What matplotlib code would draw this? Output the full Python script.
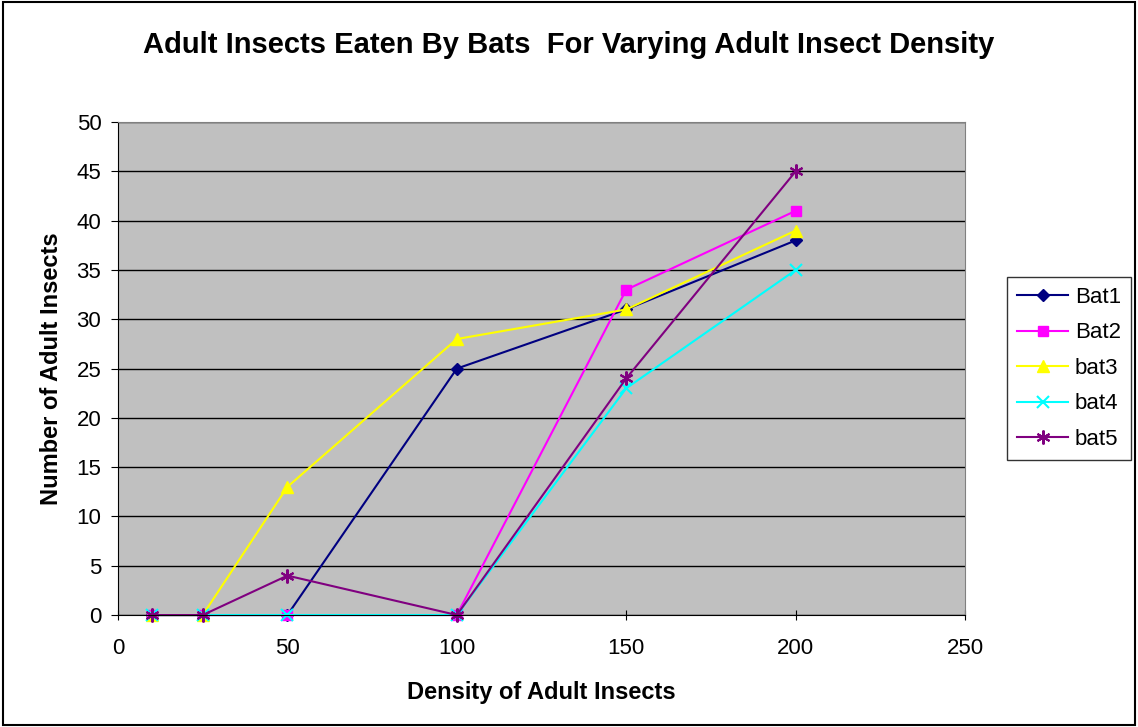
import matplotlib
matplotlib.use('Agg')
import matplotlib.pyplot as plt
from matplotlib.patches import Rectangle

plt.rcParams['font.family'] = ['Liberation Sans', 'DejaVu Sans']

density = [10, 25, 50, 100, 150, 200]
bat1 = [0, 0, 0, 25, 31, 38]
bat2 = [0, 0, 0, 0, 33, 41]
bat3 = [0, 0, 13, 28, 31, 39]
bat4 = [0, 0, 0, 0, 23, 35]
bat5 = [0, 0, 4, 0, 24, 45]
names = ['Bat1', 'Bat2', 'bat3', 'bat4', 'bat5']
colors = ['#000080', '#FF00FF', '#FFFF00', '#00FFFF', '#800080']
markers = ['D', 's', '^', 'x', (6, 2, 0)]
sizes = [6, 7, 8, 8, 10]

fig = plt.figure(figsize=(11.38, 7.27), dpi=100)
fig.patches.append(Rectangle((0.003, 0.003), 0.994, 0.994, transform=fig.transFigure,
                             fill=False, edgecolor='black', linewidth=1.5))
ax = fig.add_axes([0.1037, 0.154, 0.7443, 0.678])
ax.set_facecolor('#C0C0C0')

for ys, name, c, m, s in zip([bat1, bat2, bat3, bat4, bat5], names, colors, markers, sizes):
    ax.plot(density, ys, color=c, marker=m, markersize=s, linewidth=1.5, label=name,
            markeredgewidth=1.5 if m in ('x', (6, 2, 0)) else 1, markeredgecolor=c,
            clip_on=False)

ax.set_xlim(0, 250)
ax.set_ylim(0, 50)
ax.set_xticks(range(0, 251, 50))
ax.set_yticks(range(0, 51, 5))
ax.yaxis.grid(True, color='black', linewidth=1)
ax.set_axisbelow(True)
ax.tick_params(axis='x', labelsize=16, direction='inout', length=7, pad=13, color='black')
ax.tick_params(axis='y', labelsize=16, direction='out', length=5, pad=7, color='black')
for side in ['top', 'right']:
    ax.spines[side].set_color('#808080')
ax.spines['bottom'].set_color('black')
ax.spines['left'].set_color('black')

fig.text(0.5, 1 - 45 / 727, 'Adult Insects Eaten By Bats  For Varying Adult Insect Density',
         fontsize=21, fontweight='bold', ha='center', va='center')
ax.set_xlabel('Density of Adult Insects', fontsize=17, fontweight='bold', labelpad=16)
ax.set_ylabel('Number of Adult Insects', fontsize=17, fontweight='bold', labelpad=10)

leg = ax.legend(loc='upper left', bbox_to_anchor=(1007 / 1138, 1 - 277 / 727),
                bbox_transform=fig.transFigure, borderaxespad=0, fontsize=16,
                frameon=True, fancybox=False, edgecolor='black', handlelength=2.3,
                labelspacing=0.65, borderpad=0.45, handletextpad=0.3)
leg.get_frame().set_linewidth(1)

fig.savefig('out.png', dpi=100)
